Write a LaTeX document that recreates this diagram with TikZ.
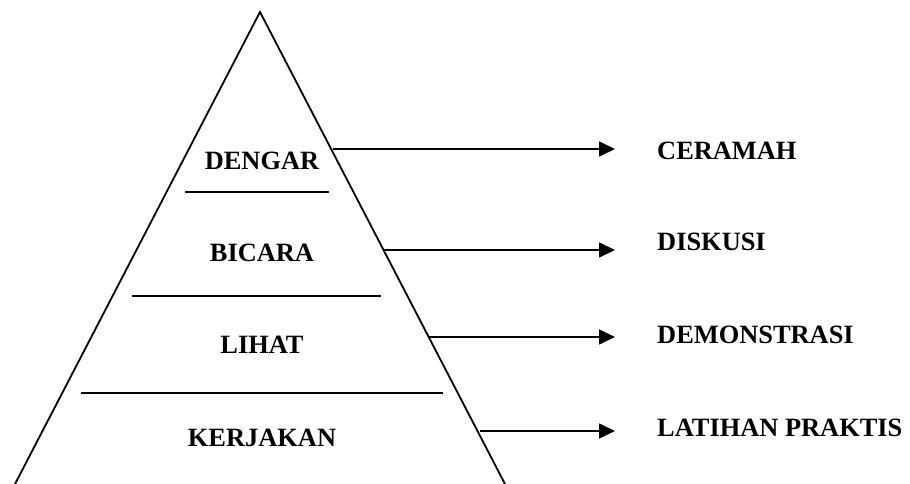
\documentclass[tikz,border=0pt]{standalone}
\usepackage{fontspec}
\setmainfont{Liberation Serif}
\usetikzlibrary{arrows.meta}
\begin{document}
\begin{tikzpicture}[x=1pt,y=-1pt,
  edge/.style={line width=1.8pt},
  sep/.style={line width=1.8pt},
  conn/.style={line width=1.6pt,-{Triangle[length=16pt,width=15pt]}},
  lbl/.style={font=\fontsize{26.4}{30}\selectfont\bfseries,inner sep=0pt,anchor=base},
  rlbl/.style={font=\fontsize{26.4}{30}\selectfont\bfseries,inner sep=0pt,anchor=base west}]
\useasboundingbox (0,0) rectangle (910,484);
\fill[white] (0,0) rectangle (910,484);
% pyramid
\coordinate (bl) at (15,484);
\coordinate (apex) at (260,12);
\coordinate (br) at (505,484);
\draw[edge] (bl) -- (apex) -- (br);
% separators
\draw[sep] (185,192) -- (329,192);
\draw[sep] (132,296) -- (381,296);
\draw[sep] (81,393) -- (443,393);
% level labels
\node[lbl] (dengar) at (262,169) {DENGAR};
\node[lbl] (bicara) at (262,261) {BICARA};
\node[lbl] (lihat) at (262,353) {LIHAT};
\node[lbl] (kerjakan) at (262,446) {KERJAKAN};
% method labels
\node[rlbl] (ceramah) at (657,160) {CERAMAH};
\node[rlbl] (diskusi) at (657,250) {DISKUSI};
\node[rlbl] (demo) at (657,343) {DEMONSTRASI};
\node[rlbl] (latihan) at (657,436) {LATIHAN PRAKTIS};
% connectors
\coordinate (s1) at (333,149); \coordinate (e1) at (615,149);
\coordinate (s2) at (383,250); \coordinate (e2) at (615,250);
\coordinate (s3) at (428,337); \coordinate (e3) at (615,337);
\coordinate (s4) at (480,431); \coordinate (e4) at (615,431);
\draw[conn] (s1) -- (e1);
\draw[conn] (s2) -- (e2);
\draw[conn] (s3) -- (e3);
\draw[conn] (s4) -- (e4);
\end{tikzpicture}
\end{document}
